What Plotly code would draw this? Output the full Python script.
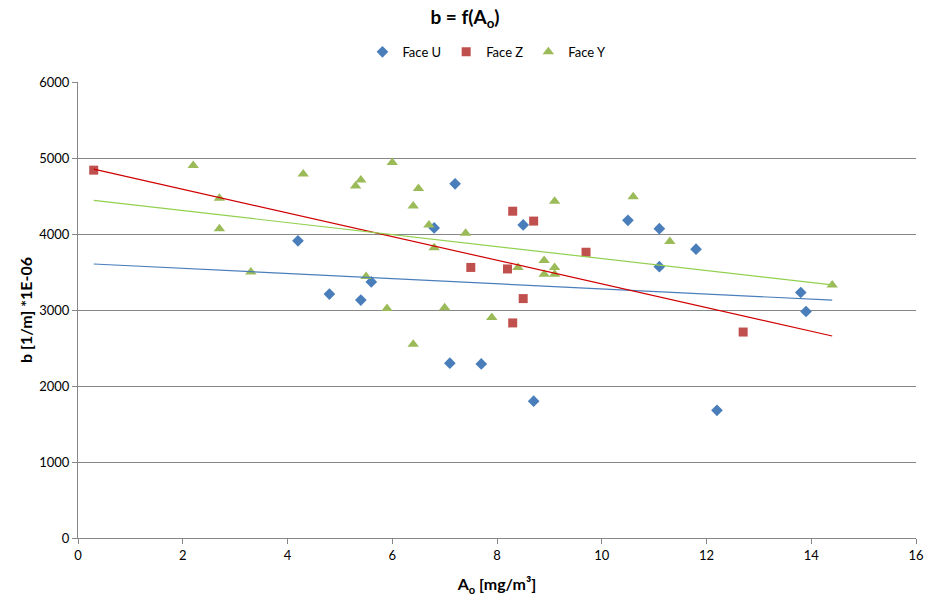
import numpy as np
import plotly.graph_objects as go

u_x = [4.2, 4.8, 5.4, 5.6, 6.8, 7.1, 7.2, 7.7, 8.5, 8.7, 10.5, 11.1, 11.1, 11.8, 12.2, 13.8, 13.9]
u_y = [3910, 3210, 3130, 3370, 4080, 2300, 4660, 2290, 4120, 1800, 4180, 4070, 3570, 3800, 1680, 3230, 2980]

z_x = [0.3, 7.5, 8.2, 8.3, 8.3, 8.5, 8.7, 9.7, 12.7]
z_y = [4840, 3560, 3540, 4300, 2830, 3150, 4170, 3760, 2710]

y_x = [2.2, 2.7, 2.7, 3.3, 4.3, 5.3, 5.4, 5.5, 5.9, 6.0, 6.4, 6.4, 6.5, 6.7, 6.8, 7.0, 7.4, 7.9,
       8.4, 8.9, 8.9, 9.1, 9.1, 9.1, 10.6, 11.3, 14.4]
y_y = [4900, 4470, 4070, 3500, 4790, 4630, 4710, 3440, 3020, 4940, 4370, 2550, 4600, 4120, 3820, 3030, 4010, 2900,
       3560, 3650, 3470, 3560, 3470, 4430, 4490, 3900, 3330]

x_ticks = [0, 2, 4, 6, 8, 10, 12, 14, 16]
y_ticks = [0, 1000, 2000, 3000, 4000, 5000, 6000]

series = [
    ("Face U", u_x, u_y, "diamond", "#4A7EBB", 9, "#4A7EBB"),
    ("Face Z", z_x, z_y, "square", "#C0504D", 9, "#D00000"),
    ("Face Y", y_x, y_y, "triangle-up", "#9BBB59", 10, "#92D050"),
]

all_x = u_x + z_x + y_x
x_lo, x_hi = min(all_x), max(all_x)

FONT = "Lato, Carlito, Calibri, sans-serif"
fig = go.Figure()
for name, xs, ys, sym, col, size, lcol in series:
    fig.add_trace(go.Scatter(x=xs, y=ys, mode="markers", name=name,
                             marker=dict(symbol=sym, color=col, size=size, line=dict(width=0))))
for name, xs, ys, sym, col, size, lcol in series:
    k, b = np.polyfit(xs, ys, 1)
    fig.add_trace(go.Scatter(x=[x_lo, x_hi], y=[k * x_lo + b, k * x_hi + b], mode="lines",
                             line=dict(color=lcol, width=1.2), showlegend=False, hoverinfo="skip"))

grid = "#878787"
fig.update_layout(
    width=930, height=601,
    paper_bgcolor="white", plot_bgcolor="white",
    margin=dict(l=78, r=14, t=82, b=63, autoexpand=False),
    font=dict(family=FONT, size=13, color="#000000"),
    title=dict(text="<b>b = f(A<sub>o</sub>)</b>", x=0.5, xanchor="center",
               yref="container", y=0.982, yanchor="top",
               font=dict(size=19, family=FONT)),
    legend=dict(orientation="h", x=0.488, xanchor="center", y=1.066, yanchor="middle",
                font=dict(size=13, family=FONT), itemwidth=30, tracegroupgap=0),
    xaxis=dict(range=[0, 16], tickvals=x_ticks, showgrid=False, showline=True, linecolor=grid,
               linewidth=1, ticks="outside", ticklen=5, tickcolor=grid, zeroline=False,
               automargin=False,
               title=dict(text="<b>A<sub>o</sub> [mg/m³]</b>", font=dict(size=16), standoff=17),
               tickfont=dict(size=13)),
    yaxis=dict(range=[0, 6000], tickvals=y_ticks, showgrid=True, gridcolor=grid, gridwidth=1,
               showline=True, linecolor=grid, linewidth=1, ticks="outside", ticklen=5, tickcolor=grid,
               zeroline=False, automargin=False,
               title=dict(text="<b>b [1/m] *1E-06</b>", font=dict(size=16), standoff=2),
               tickfont=dict(size=13)),
)
fig.write_html("out.html", config={"displayModeBar": False},
               post_script="document.body.style.margin='0';")
